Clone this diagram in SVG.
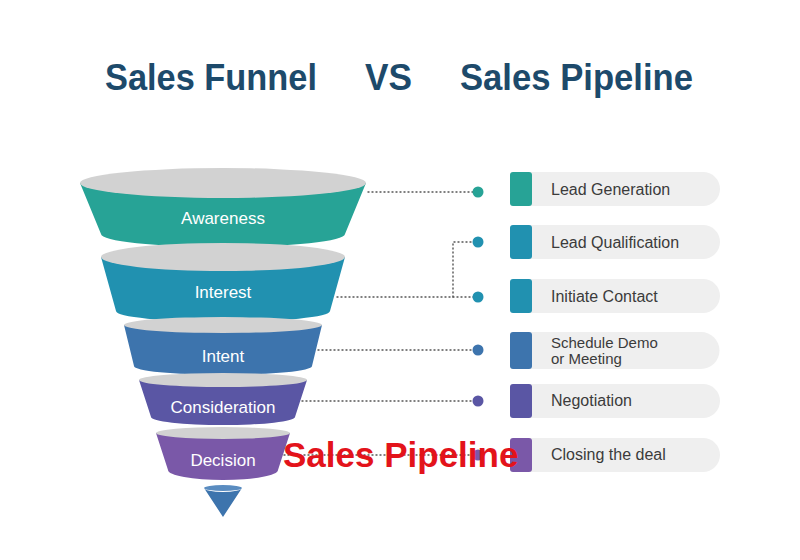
<svg xmlns="http://www.w3.org/2000/svg" width="800" height="560" viewBox="0 0 800 560">
<style>
.title{font-family:"Liberation Sans",Arial,sans-serif;font-weight:bold;font-size:37px;fill:#1d4a6b}
.ftxt{font-family:"Liberation Sans",Arial,sans-serif;font-size:17px;fill:#ffffff;text-anchor:middle}
.ptxt{font-family:"Liberation Sans",Arial,sans-serif;font-size:16px;fill:#3b3b3b}
.top{fill:#d2d2d2}
.bg{fill:#efefef}
.dot-line{fill:none;stroke:#555;stroke-width:1.4;stroke-dasharray:1 3;stroke-linecap:round}
.c1{fill:#27a396}.c2{fill:#2191b0}.c3{fill:#3d74ad}.c4{fill:#5a56a4}.c5{fill:#7a58a8}
</style>
<rect width="800" height="560" fill="#ffffff"/>
<g id="title">
<text class="title" x="105" y="90" textLength="212" lengthAdjust="spacingAndGlyphs">Sales Funnel</text>
<text class="title" x="365" y="90" textLength="47" lengthAdjust="spacingAndGlyphs">VS</text>
<text class="title" x="460" y="90" textLength="233" lengthAdjust="spacingAndGlyphs">Sales Pipeline</text>
</g>
<g id="connectors">
<line class="dot-line" x1="368" y1="192" x2="478" y2="192"/>
<line class="dot-line" x1="337" y1="297" x2="478" y2="297"/>
<polyline class="dot-line" points="453,297 453,242 478,242"/>
<line class="dot-line" x1="318" y1="350" x2="478" y2="350"/>
<line class="dot-line" x1="302" y1="401" x2="478" y2="401"/>
<line class="dot-line" x1="284" y1="455" x2="478" y2="455"/>
<circle class="c1" cx="478" cy="192" r="5.5"/>
<circle class="c2" cx="478" cy="242" r="5.5"/>
<circle class="c2" cx="478" cy="297" r="5.5"/>
<circle class="c3" cx="478" cy="350" r="5.5"/>
<circle class="c4" cx="478" cy="401" r="5.5"/>
<circle class="c5" cx="478" cy="455" r="5.5"/>
</g>
<g id="awareness">
<path class="c1" d="M80,183 L101,234 A122,13 0 0 0 345,234 L366,183 Z"/>
<ellipse class="top" cx="223" cy="183" rx="143" ry="15"/>
<text class="ftxt" x="223" y="224">Awareness</text>
</g>
<g id="interest">
<path class="c2" d="M101,257 L116,311 A107,11 0 0 0 330,311 L345,257 Z"/>
<ellipse class="top" cx="223" cy="257" rx="122" ry="14"/>
<text class="ftxt" x="223" y="298">Interest</text>
</g>
<g id="intent">
<path class="c3" d="M124,325 L134,366 A89,9 0 0 0 312,366 L322,325 Z"/>
<ellipse class="top" cx="223" cy="325" rx="99" ry="8"/>
<text class="ftxt" x="223" y="362">Intent</text>
</g>
<g id="consideration">
<path class="c4" d="M139,380 L151,417 A72,8 0 0 0 295,417 L307,380 Z"/>
<ellipse class="top" cx="223" cy="380" rx="84" ry="7"/>
<text class="ftxt" x="223" y="413">Consideration</text>
</g>
<g id="decision">
<path class="c5" d="M156,433 L168,470 A55,10 0 0 0 278,470 L290,433 Z"/>
<ellipse class="top" cx="223" cy="433" rx="67" ry="6"/>
<text class="ftxt" x="223" y="466">Decision</text>
</g>
<g id="funnel-tip">
<path class="c3" d="M204,488 A19,4 0 0 0 242,488 L223,517 Z"/>
<ellipse cx="223" cy="488" rx="19" ry="3" fill="#5a8cc0"/>
</g>
<g id="lead-generation">
<path class="bg" d="M528,172 H703 A17,17 0 0 1 703,206 H528 Z"/>
<rect class="c1" x="510" y="172" width="22" height="34" rx="3"/>
<text class="ptxt" x="551" y="194.5">Lead Generation</text>
</g>
<g id="lead-qualification">
<path class="bg" d="M528,225 H703 A17,17 0 0 1 703,259 H528 Z"/>
<rect class="c2" x="510" y="225" width="22" height="34" rx="3"/>
<text class="ptxt" x="551" y="247.5">Lead Qualification</text>
</g>
<g id="initiate-contact">
<path class="bg" d="M528,279 H703 A17,17 0 0 1 703,313 H528 Z"/>
<rect class="c2" x="510" y="279" width="22" height="34" rx="3"/>
<text class="ptxt" x="551" y="301.5">Initiate Contact</text>
</g>
<g id="schedule-demo">
<path class="bg" d="M528,332 H701 A18.5,18.5 0 0 1 701,369 H528 Z"/>
<rect class="c3" x="510" y="332" width="22" height="37" rx="3"/>
<text class="ptxt" x="551" y="347.5" style="font-size:15px">Schedule Demo</text>
<text class="ptxt" x="551" y="364" style="font-size:15px">or Meeting</text>
</g>
<g id="negotiation">
<path class="bg" d="M528,384 H703 A17,17 0 0 1 703,418 H528 Z"/>
<rect class="c4" x="510" y="384" width="22" height="34" rx="3"/>
<text class="ptxt" x="551" y="405.5">Negotiation</text>
</g>
<g id="closing-the-deal">
<path class="bg" d="M528,438 H703 A17,17 0 0 1 703,472 H528 Z"/>
<rect class="c5" x="510" y="438" width="22" height="34" rx="3"/>
<text class="ptxt" x="551" y="459.5">Closing the deal</text>
</g>
<g id="overlay-label">
<text x="283" y="467" style="font-family:'Liberation Sans',Arial,sans-serif;font-weight:bold;font-size:35px;fill:#e3131b">Sales Pipeline</text>
</g>
</svg>
